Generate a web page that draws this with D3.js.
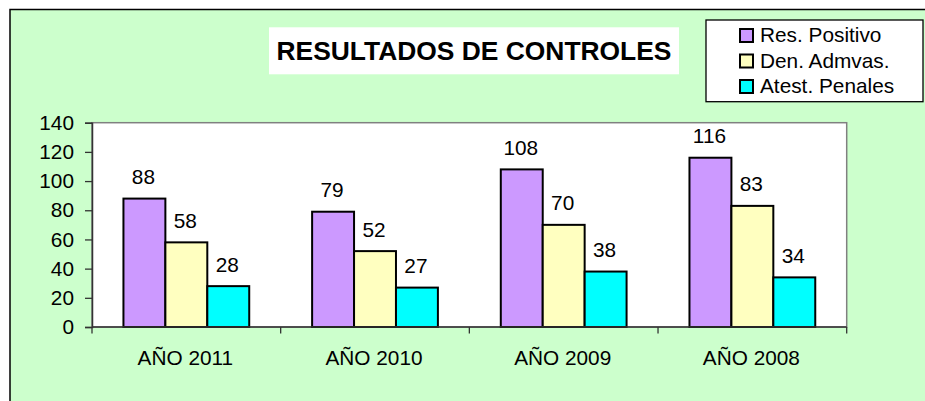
<!DOCTYPE html>
<html>
<head>
<meta charset="utf-8">
<script src="https://cdn.jsdelivr.net/npm/d3@7"></script>
<style>
  html, body { margin: 0; padding: 0; background: #ffffff; }
  svg { display: block; }
  text { font-family: "Liberation Sans", Arial, sans-serif; fill: #000; }
</style>
</head>
<body>
<svg id="chart" width="925" height="401"></svg>
<script>
const categories = ["AÑO 2011", "AÑO 2010", "AÑO 2009", "AÑO 2008"];
const seriesNames = ["Res. Positivo", "Den. Admvas.", "Atest. Penales"];
const resPositivo = [88, 79, 108, 116];
const denAdmvas = [58, 52, 70, 83];
const atestPenales = [28, 27, 38, 34];
const yTicks = [0, 20, 40, 60, 80, 100, 120, 140];
const titleText = "RESULTADOS DE CONTROLES";

const seriesColors = ["#CC99FF", "#FFFFC0", "#00FFFF"];
const seriesValues = [resPositivo, denAdmvas, atestPenales];

const svg = d3.select("#chart");

// outer chart area
svg.append("rect")
  .attr("x", 10).attr("y", 9.5)
  .attr("width", 960).attr("height", 420)
  .attr("fill", "#CCFFCC").attr("stroke", "#000").attr("stroke-width", 1.5);

const plot = { left: 92, right: 846.7, top: 122.7, bottom: 327 };

const x0 = d3.scaleBand().domain(categories).range([plot.left, plot.right]).padding(0);
const x1 = d3.scaleBand().domain(seriesNames).range([0, x0.bandwidth()])
  .paddingInner(0).paddingOuter(0.75);
const y = d3.scaleLinear().domain([0, 140]).range([plot.bottom, plot.top]);

// plot area
svg.append("rect")
  .attr("x", plot.left).attr("y", plot.top)
  .attr("width", plot.right - plot.left).attr("height", plot.bottom - plot.top)
  .attr("fill", "#fff").attr("stroke", "#808080").attr("stroke-width", 1.5);

// bars
const groups = svg.append("g").selectAll("g")
  .data(categories).join("g")
  .attr("transform", d => `translate(${x0(d)},0)`);

seriesNames.forEach((s, si) => {
  groups.append("rect")
    .attr("x", x1(s))
    .attr("y", (d, i) => y(seriesValues[si][i]))
    .attr("width", x1.bandwidth())
    .attr("height", (d, i) => y(0) - y(seriesValues[si][i]))
    .attr("fill", seriesColors[si])
    .attr("stroke", "#000").attr("stroke-width", 2);
  groups.append("text")
    .attr("x", x1(s) + x1.bandwidth() / 2 - 1)
    .attr("y", (d, i) => y(seriesValues[si][i]) - 14.5)
    .attr("text-anchor", "middle")
    .attr("font-size", "20.8px")
    .text((d, i) => seriesValues[si][i]);
});

// y axis
const yAxis = svg.append("g")
  .attr("transform", `translate(${plot.left},0)`)
  .call(d3.axisLeft(y).tickValues(yTicks).tickSize(7).tickPadding(11));
yAxis.select(".domain").attr("stroke", "#333").attr("stroke-width", 1.5);
yAxis.selectAll(".tick line").attr("stroke", "#333").attr("stroke-width", 1.3);
yAxis.selectAll(".tick text")
  .attr("font-size", "20.8px")
  .attr("font-family", "Liberation Sans, Arial, sans-serif")
  .attr("fill", "#000");

// x axis
const xAxis = svg.append("g")
  .attr("transform", `translate(0,${plot.bottom})`);
xAxis.append("line")
  .attr("x1", plot.left).attr("x2", plot.right)
  .attr("y1", 0).attr("y2", 0)
  .attr("stroke", "#333").attr("stroke-width", 1.5);
const boundaries = categories.map(c => x0(c)).concat([plot.right]);
xAxis.selectAll("line.tk").data(boundaries).join("line")
  .attr("class", "tk")
  .attr("x1", d => d).attr("x2", d => d)
  .attr("y1", 0).attr("y2", 6.5)
  .attr("stroke", "#333").attr("stroke-width", 1.3);
xAxis.selectAll("text").data(categories).join("text")
  .attr("x", d => x0(d) + x0.bandwidth() / 2 - 1)
  .attr("y", 38)
  .attr("text-anchor", "middle")
  .attr("font-size", "20.8px")
  .text(d => d);

// title
svg.append("rect")
  .attr("x", 269).attr("y", 27.3).attr("width", 410).attr("height", 47)
  .attr("fill", "#fff");
svg.append("text")
  .attr("x", 474).attr("y", 60)
  .attr("text-anchor", "middle")
  .attr("font-size", "26.4px").attr("font-weight", "bold")
  .text(titleText);

// legend
const legend = svg.append("g");
legend.append("rect")
  .attr("x", 706).attr("y", 20)
  .attr("width", 217).attr("height", 81.7)
  .attr("fill", "#fff").attr("stroke", "#000").attr("stroke-width", 1.3);
const lg = legend.selectAll("g").data(seriesNames).join("g")
  .attr("transform", (d, i) => `translate(0,${42 + i * 25.5})`);
lg.append("rect")
  .attr("x", 740).attr("y", -13)
  .attr("width", 13).attr("height", 13)
  .attr("fill", (d, i) => seriesColors[i])
  .attr("stroke", "#000").attr("stroke-width", 2);
lg.append("text")
  .attr("x", 760).attr("y", 0)
  .attr("font-size", "20.8px")
  .text(d => d);
</script>
</body>
</html>
